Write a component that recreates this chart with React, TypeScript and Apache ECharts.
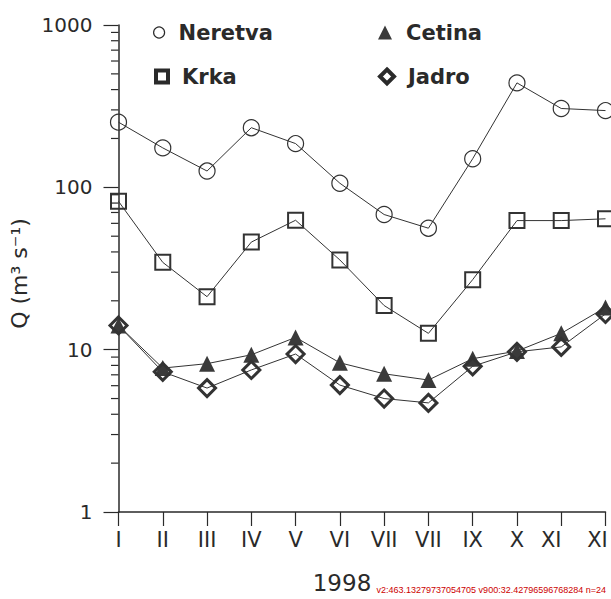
import React, { useEffect, useRef } from "react";
import * as echarts from "echarts";

const months = ["I", "II", "III", "IV", "V", "VI", "VII", "VIII", "IX", "X", "XI", "XII"];
const tickLabels = ["I", "II", "III", "IV", "V", "VI", "VII", "VII", "IX", "X", "XI", "XI"];
const neretva = [252, 175, 126, 233, 186, 106, 68, 56, 150, 440, 306, 297];
const krka = [82, 34.5, 21.2, 46, 62.7, 35.7, 18.7, 12.6, 27, 62.4, 62.4, 64];
const cetina = [14.1, 7.7, 8.2, 9.3, 11.9, 8.3, 7.1, 6.5, 8.8, 9.8, 12.6, 18.2];
const jadro = [14.1, 7.3, 5.8, 7.5, 9.4, 6.05, 5.0, 4.7, 7.9, 9.7, 10.4, 16.6];
const minorTickValues = [2, 3, 4, 5, 6, 7, 8, 9, 20, 30, 40, 50, 60, 70, 80, 90, 200, 300, 400, 500, 600, 700, 800, 900];

const FONT = "DejaVu Sans";
const INK = "#2a2a2a";
const GRID_LEFT = 118.5;

export default function App() {
  const ref = useRef<HTMLDivElement>(null);
  useEffect(() => {
    if (!ref.current) return;
    const chart = echarts.init(ref.current, undefined, { renderer: "svg" });
    const legendText = { fontFamily: FONT, fontSize: 21, fontWeight: "bold" as const, color: INK, padding: [0, 0, 0, 9] };
    const mkLegend = (name: string, icon: string, left: number, top: number, itemStyle: any, size: number) => ({
      left,
      top,
      itemWidth: size,
      itemHeight: size,
      textStyle: legendText,
      data: [{ name, icon, itemStyle }],
    });
    chart.setOption({
      animation: false,
      backgroundColor: "#ffffff",
      grid: { left: GRID_LEFT, right: 5.5, top: 25, bottom: 82.5, containLabel: false },
      legend: [
        mkLegend("Neretva", "circle", 148, 17, { color: "transparent", borderColor: INK, borderWidth: 1.2 }, 11),
        mkLegend("Krka", "rect", 149, 61, { color: "transparent", borderColor: INK, borderWidth: 4 }, 12),
        mkLegend("Cetina", "triangle", 373, 17, { color: "#3a3a3a", borderWidth: 0 }, 14),
        mkLegend("Jadro", "diamond", 373, 61, { color: "transparent", borderColor: INK, borderWidth: 4 }, 14),
      ],
      xAxis: {
        type: "category",
        data: months,
        boundaryGap: false,
        name: "1998",
        nameLocation: "middle",
        nameGap: 59,
        nameTextStyle: { fontFamily: FONT, fontSize: 23, color: INK, padding: [0, 40, 0, 0] },
        axisLine: { show: true, lineStyle: { color: INK, width: 1.5 } },
        axisTick: { show: true, inside: false, length: 14, alignWithLabel: true, lineStyle: { color: INK, width: 1.2 } },
        axisLabel: {
          interval: 0,
          margin: 17,
          fontFamily: FONT,
          fontSize: 21,
          color: INK,
          formatter: (_v: string, i: number) => {
            const t = tickLabels[i];
            if (i === 10) return `{a|${t}}`;
            if (i === 11) return `{b|${t}}`;
            return t;
          },
          rich: {
            a: { fontFamily: FONT, fontSize: 21, color: INK, padding: [0, 20, 0, 0] },
            b: { fontFamily: FONT, fontSize: 21, color: INK, padding: [0, 16, 0, 0] },
          },
        },
        splitLine: { show: false },
      },
      yAxis: {
        type: "log",
        logBase: 10,
        min: 1,
        max: 1000,
        name: "Q (m³ s⁻¹)",
        nameLocation: "middle",
        nameRotate: 90,
        nameGap: 66,
        nameTextStyle: { fontFamily: FONT, fontSize: 22, color: INK, padding: [0, 10, 0, 0] },
        axisLine: { show: true, lineStyle: { color: INK, width: 1.5 } },
        axisTick: { show: true, inside: false, length: 15, lineStyle: { color: INK, width: 1.2 } },
        minorTick: { show: false },
        axisLabel: {
          margin: 26,
          fontFamily: FONT,
          fontSize: 20,
          color: INK,
          formatter: (v: number) => String(Math.round(v)),
        },
        splitLine: { show: false },
        minorSplitLine: { show: false },
      },
      series: [
        {
          name: "Neretva",
          type: "line",
          data: neretva,
          symbol: "circle",
          symbolSize: 16,
          lineStyle: { color: "#333", width: 1 },
          itemStyle: { color: "transparent", borderColor: "#333", borderWidth: 1.2 },
        },
        {
          name: "Krka",
          type: "line",
          data: krka,
          symbol: "rect",
          symbolSize: 15,
          lineStyle: { color: "#333", width: 1 },
          itemStyle: { color: "transparent", borderColor: "#333", borderWidth: 2 },
        },
        {
          name: "Cetina",
          type: "line",
          data: cetina,
          symbol: "triangle",
          symbolSize: 16,
          lineStyle: { color: "#333", width: 1 },
          itemStyle: { color: "#3a3a3a", borderWidth: 0 },
        },
        {
          name: "Jadro",
          type: "line",
          data: jadro,
          symbol: "diamond",
          symbolSize: 17,
          lineStyle: { color: "#333", width: 1 },
          itemStyle: { color: "transparent", borderColor: "#333", borderWidth: 3 },
        },
      ],
    });

    // Minor ticks of the log axis, placed through the chart's own y scale.
    let debug = "";
    try {
      const elements: any[] = [];
      minorTickValues.forEach((v) => {
        const raw: any = chart.convertToPixel({ yAxisIndex: 0 } as any, v as any);
        const y = Array.isArray(raw) ? Number(raw[1]) : Number(raw);
        if (v === 2 || v === 900) debug += `v${v}:${JSON.stringify(raw)} `;
        if (isFinite(y)) {
          elements.push({
            type: "line",
            silent: true,
            shape: { x1: GRID_LEFT - 7.5, y1: y, x2: GRID_LEFT, y2: y },
            style: { stroke: INK, lineWidth: 1.2, fill: null },
            z: 10,
          });
        }
      });
      debug += `n=${elements.length}`;
      chart.setOption({ graphic: { elements } });
    } catch (e: any) {
      debug += "ERR " + String(e && e.message);
    }
    chart.setOption({ title: { text: debug, right: 0, bottom: 0, textStyle: { fontSize: 9, color: "#c00", fontWeight: "normal" } } });
    return () => chart.dispose();
  }, []);
  return <div ref={ref} style={{ width: 611, height: 599, position: "absolute", left: 0, top: 0 }} />;
}
